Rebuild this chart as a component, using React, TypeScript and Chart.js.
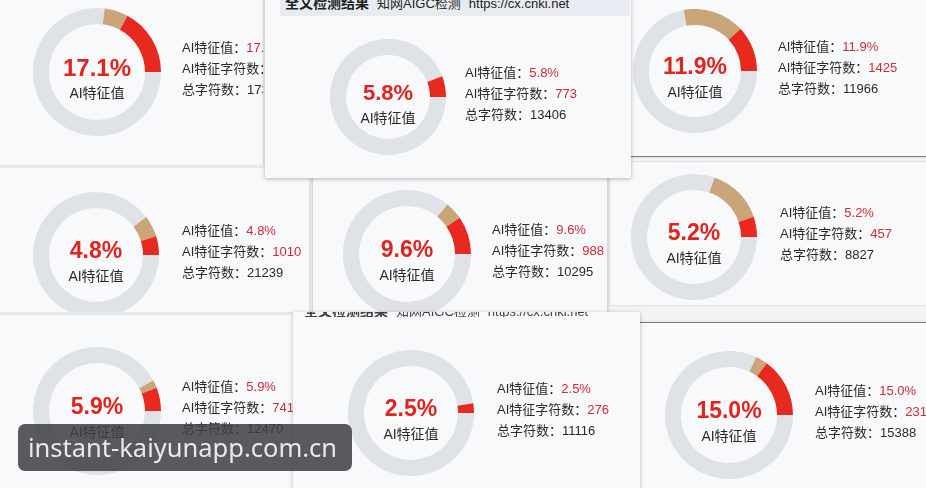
import React, { useEffect, useRef } from "react";
import { Chart, registerables } from "chart.js";

Chart.register(...registerables);

// ---- data ----
const AI_PERCENT = [17.1, 5.8, 11.9, 4.8, 9.6, 5.2, 5.9, 2.5, 15.0];
const SUSPECT_PERCENT = [6, 0, 16, 5.5, 4.5, 14.5, 2, 0, 3];
const AI_CHARS = [2974, 773, 1425, 1010, 988, 457, 741, 276, 2311];
const TOTAL_CHARS = [17392, 13406, 11966, 21239, 10295, 8827, 12470, 11116, 15388];
const CENTER_LABEL = "AI特征值";
const LINE_LABELS = ["AI特征值：", "AI特征字符数：", "总字符数："];
const HEADER_TITLE = "全文检测结果";
const HEADER_SOURCE = "知网AIGC检测";
const HEADER_URL = "https://cx.cnki.net";
const WATERMARK = "instant-kaiyunapp.com.cn";

// ---- layout (positions / sizes only) ----
type Box = { l: number; t: number; w: number; h: number; z: number; shadow?: boolean; bb?: boolean; bt?: boolean };
const PANELS: Box[] = [
  { l: -4, t: -4, w: 267, h: 169, z: 1 },
  { l: 265, t: -6, w: 366, h: 184, z: 3, shadow: true },
  { l: 620, t: -4, w: 320, h: 161, z: 1, bb: true },
  { l: -4, t: 168, w: 313, h: 144, z: 1 },
  { l: 313, t: 166, w: 294, h: 146, z: 2, shadow: true },
  { l: 610, t: 162, w: 330, h: 143, z: 1 },
  { l: -4, t: 315, w: 300, h: 180, z: 1 },
  { l: 293, t: 312, w: 347, h: 180, z: 3, shadow: true },
  { l: 640, t: 322, w: 300, h: 170, z: 1, bt: true },
];
const DONUTS = [
  { cx: 97, cy: 72, r: 64, lx: 182, fs: 24 },
  { cx: 388, cy: 97, r: 58, lx: 465, fs: 22 },
  { cx: 695, cy: 71, r: 62, lx: 778, fs: 23 },
  { cx: 96, cy: 255, r: 63, lx: 182, fs: 23 },
  { cx: 407, cy: 254, r: 64, lx: 492, fs: 23 },
  { cx: 694, cy: 237, r: 63, lx: 780, fs: 23 },
  { cx: 97, cy: 411, r: 64, lx: 182, fs: 23 },
  { cx: 411, cy: 413, r: 63, lx: 497, fs: 23 },
  { cx: 729, cy: 414, r: 64, lx: 815, fs: 23 },
];
const RING = 16;
const C_RED = "#e7291f";
const C_TAN = "#c9a579";
const C_GREY = "#dfe2e6";
const FONT = "'Liberation Sans', Arial, 'Noto Sans CJK SC', sans-serif";

function Donut({ idx }: { idx: number }) {
  const ref = useRef<HTMLCanvasElement | null>(null);
  const d = DONUTS[idx];
  useEffect(() => {
    if (!ref.current) return;
    const ai = AI_PERCENT[idx];
    const sus = SUSPECT_PERCENT[idx];
    const chart = new Chart(ref.current, {
      type: "doughnut",
      data: {
        labels: ["其他", "疑似", CENTER_LABEL],
        datasets: [
          {
            data: [100 - ai - sus, sus, ai],
            backgroundColor: [C_GREY, C_TAN, C_RED],
            borderWidth: 0,
            hoverOffset: 0,
          },
        ],
      },
      options: {
        responsive: false,
        maintainAspectRatio: false,
        animation: false,
        events: [],
        rotation: 90,
        cutout: d.r - RING,
        layout: { padding: 0 },
        plugins: { legend: { display: false }, tooltip: { enabled: false } },
      },
    });
    return () => chart.destroy();
  }, [idx]);
  return (
    <canvas
      ref={ref}
      width={d.r * 2}
      height={d.r * 2}
      style={{ position: "absolute", left: d.cx - d.r, top: d.cy - d.r, width: d.r * 2, height: d.r * 2 }}
    />
  );
}

function Card({ idx }: { idx: number }) {
  const p = PANELS[idx];
  const d = DONUTS[idx];
  const lines = [
    { label: LINE_LABELS[0], value: AI_PERCENT[idx].toFixed(1) + "%", red: true },
    { label: LINE_LABELS[1], value: String(AI_CHARS[idx]), red: true },
    { label: LINE_LABELS[2], value: String(TOTAL_CHARS[idx]), red: false },
  ];
  return (
    <div
      style={{
        position: "absolute",
        left: p.l,
        top: p.t,
        width: p.w,
        height: p.h,
        zIndex: p.z,
        background: "#f8f9fb",
        overflow: "hidden",
        boxShadow: p.shadow ? "0 1px 4px rgba(0,0,0,0.28)" : "0 0 2px rgba(0,0,0,0.18)",
        borderBottom: p.bb ? "1.5px solid #7d7d7d" : undefined,
        borderTop: p.bt ? "1.5px solid #7d7d7d" : undefined,
        boxSizing: "border-box",
      }}
    >
      <div style={{ position: "absolute", left: -p.l, top: -p.t, width: 926, height: 488 }}>
        {idx === 1 && (
          <div
            style={{
              position: "absolute",
              left: 280,
              top: 0,
              width: 350,
              height: 16,
              background: "#e8ecf2",
              overflow: "hidden",
            }}
          >
            <div style={{ position: "absolute", left: 5, top: -8, whiteSpace: "nowrap", fontSize: 13, color: "#222" }}>
              <b style={{ fontSize: 14 }}>{HEADER_TITLE}</b>
              <span style={{ marginLeft: 8 }}>{HEADER_SOURCE}</span>
              <span style={{ marginLeft: 8 }}>{HEADER_URL}</span>
            </div>
          </div>
        )}
        {idx === 7 && (
          <div style={{ position: "absolute", left: 300, top: 312, width: 330, height: 5, overflow: "hidden", opacity: 0.85 }}>
            <div style={{ position: "absolute", left: 4, top: -12, whiteSpace: "nowrap", fontSize: 13, color: "#222" }}>
              <b style={{ fontSize: 14 }}>{HEADER_TITLE}</b>
              <span style={{ marginLeft: 8 }}>{HEADER_SOURCE}</span>
              <span style={{ marginLeft: 8 }}>{HEADER_URL}</span>
            </div>
          </div>
        )}
        <Donut idx={idx} />
        <div
          style={{
            position: "absolute",
            left: d.cx - 50,
            width: 100,
            top: d.cy - 4 - d.fs * 0.6,
            textAlign: "center",
            fontWeight: 700,
            fontSize: d.fs,
            lineHeight: `${d.fs * 1.2}px`,
            color: "#e0241f",
          }}
        >
          {AI_PERCENT[idx].toFixed(1) + "%"}
        </div>
        <div
          style={{
            position: "absolute",
            left: d.cx - 50,
            width: 100,
            top: d.cy + 12,
            textAlign: "center",
            fontSize: 14,
            lineHeight: "18px",
            color: "#2a2a2a",
          }}
        >
          {CENTER_LABEL}
        </div>
        {lines.map((ln, i) => (
          <div
            key={i}
            style={{
              position: "absolute",
              left: d.lx,
              top: d.cy - 33 + i * 21,
              whiteSpace: "nowrap",
              fontSize: 13,
              lineHeight: "18px",
              color: "#2a2a2a",
            }}
          >
            {ln.label}
            <span style={{ color: ln.red ? "#cf2c35" : "#2a2a2a" }}>{ln.value}</span>
          </div>
        ))}
      </div>
    </div>
  );
}

export default function App() {
  return (
    <div
      style={{
        position: "fixed",
        left: 0,
        top: 0,
        width: 926,
        height: 488,
        overflow: "hidden",
        background: "#f2f3f5",
        fontFamily: FONT,
      }}
    >
      {PANELS.map((_, i) => (
        <Card key={i} idx={i} />
      ))}
      <div
        style={{
          position: "absolute",
          left: 18,
          top: 424,
          width: 334,
          height: 47,
          borderRadius: 7,
          background: "rgba(62,64,66,0.86)",
          zIndex: 10,
          color: "#e9e9e9",
          fontFamily: "'Noto Sans', 'DejaVu Sans', sans-serif",
          fontSize: 25.5,
          lineHeight: "47px",
          paddingLeft: 10,
          boxSizing: "border-box",
          whiteSpace: "nowrap",
        }}
      >
        {WATERMARK}
      </div>
    </div>
  );
}
